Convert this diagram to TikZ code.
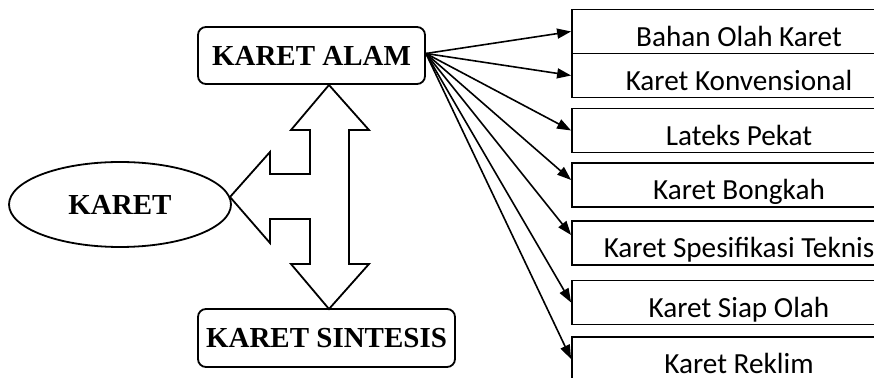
\documentclass[tikz,border=0pt]{standalone}
\usepackage{fontspec}
\setmainfont{Liberation Serif}
\newfontfamily\calibri{Carlito}
\usetikzlibrary{arrows.meta,shapes.geometric}

\tikzset{
  utama/.style={draw,rounded corners=4pt,line width=0.9pt,inner sep=0pt,
    font=\fontsize{14.5}{16}\selectfont\bfseries},
  jenis/.style={draw,line width=0.9pt,minimum width=167pt,minimum height=22pt,
    inner sep=0pt,text height=14.9pt,text depth=0pt,
    font=\calibri\fontsize{14.6}{16}\selectfont},
  panah/.style={-{Triangle[length=7pt,width=5pt]},line width=0.8pt},
}

\begin{document}
\begin{tikzpicture}[x=0.5pt,y=-0.5pt]
\clip (0,0) rectangle (874,378);
% pusat
\node[utama,minimum width=113.5pt,minimum height=28.5pt] (alam) at (311.5,55.5) {KARET ALAM};
\node[utama,minimum width=128.5pt,minimum height=29pt] (sintesis) at (326.5,338) {KARET SINTESIS};
\node[draw,ellipse,line width=0.9pt,minimum width=111pt,minimum height=42.5pt,inner sep=0pt,
  font=\fontsize{14.5}{16}\selectfont\bfseries] (karet) at (120,204.5) {KARET};
% panah tiga arah
\draw[line width=0.9pt] (329,85) -- (369,130) -- (349,130) -- (349,264) -- (369,264)
  -- (329,309) -- (291,264) -- (310,264) -- (310,219) -- (270,219) -- (270,243)
  -- (230,197) -- (270,152) -- (270,174) -- (310,174) -- (310,130) -- (291,130) -- cycle;
% jenis karet alam
\foreach \n/\y/\teks in {1/31.5/Bahan Olah Karet, 2/75.5/Karet Konvensional,
    3/130.5/Lateks Pekat, 4/185/Karet Bongkah, 5/243/Karet Spesifikasi Teknis,
    6/302.5/Karet Siap Olah, 7/359/Karet Reklim} {
  \node[jenis] (b\n) at (739,\y) {\teks};
}
\foreach \n/\dy in {1/0pt,2/0pt,3/0pt,4/2.5pt,5/4pt,6/0pt,7/0pt} {
  \draw[panah] ([yshift=1pt]alam.east) -- ([yshift=\dy]b\n.west);
}
\end{tikzpicture}
\end{document}
